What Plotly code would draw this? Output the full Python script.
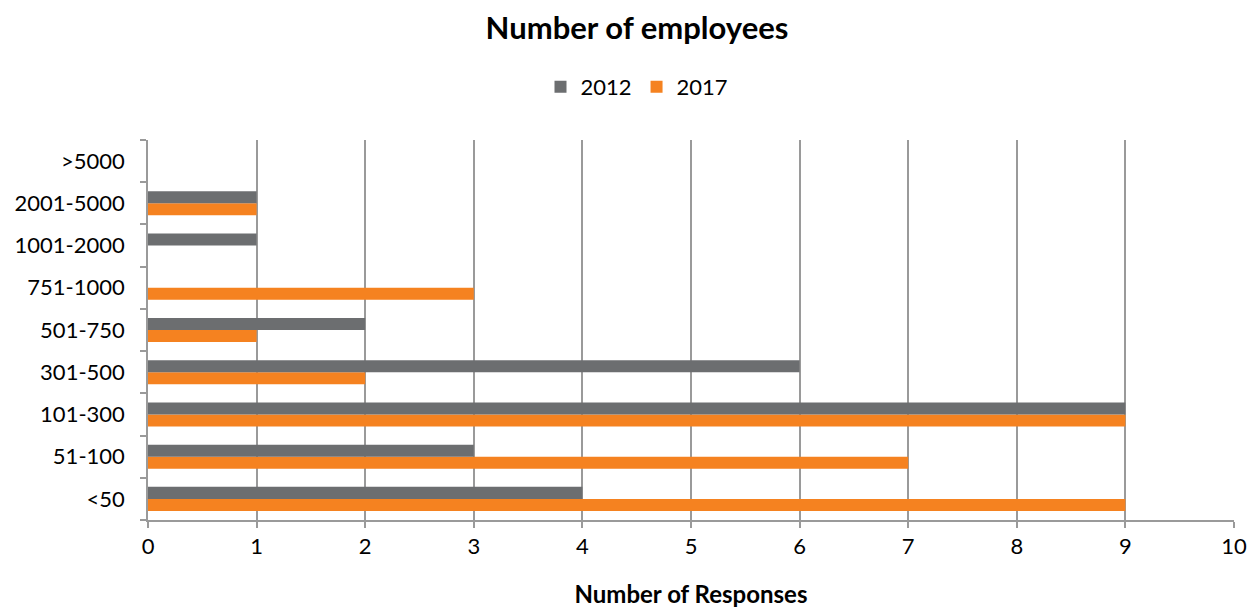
import plotly.graph_objects as go

categories = ["<50", "51-100", "101-300", "301-500", "501-750", "751-1000", "1001-2000", "2001-5000", ">5000"]
values_2012 = [4, 3, 9, 6, 2, 0, 1, 1, 0]
values_2017 = [9, 7, 9, 2, 1, 3, 0, 1, 0]
x_ticks = list(range(0, 11))

GRAY = "#6c6e70"
ORANGE = "#f58220"
AXIS = "#9a9a9a"
FONT = "Lato, 'Open Sans', sans-serif"

fig = go.Figure()
fig.add_trace(go.Bar(y=categories, x=values_2017, name="2017", orientation="h",
                     marker=dict(color=ORANGE, line=dict(width=0)), legendrank=2))
fig.add_trace(go.Bar(y=categories, x=values_2012, name="2012", orientation="h",
                     marker=dict(color=GRAY, line=dict(width=0)), legendrank=1))

fig.update_layout(
    width=1258, height=609,
    paper_bgcolor="white", plot_bgcolor="white",
    font=dict(family=FONT, size=22, color="#000000"),
    title=dict(text="<b>Number of employees</b>", x=0.5, xref="container", xanchor="center",
               yref="container", y=1 - 20 / 609, yanchor="middle",
               font=dict(size=31, family=FONT)),
    legend=dict(orientation="h", xref="container", x=0.5, xanchor="center",
                yref="container", y=1 - 79 / 609, yanchor="middle",
                font=dict(size=22), itemwidth=30),
    barmode="group", bargap=0.43, bargroupgap=0,
    margin=dict(l=140, r=32, t=132, b=97, autoexpand=False),
    showlegend=True,
)
fig.update_xaxes(range=[0, 10], tickvals=x_ticks, showgrid=True, gridcolor=AXIS, gridwidth=1.5,
                 showline=True, linecolor=AXIS, linewidth=1.5, ticks="outside", ticklen=6,
                 tickcolor=AXIS, tickwidth=1.5, zeroline=False, automargin=False,
                 tickfont=dict(size=22),
                 title=dict(text="<b>Number of Responses</b>", font=dict(size=24), standoff=28))
fig.update_yaxes(categoryorder="array", categoryarray=categories, showgrid=False,
                 showline=True, linecolor=AXIS, linewidth=1.5, ticks="outside", ticklen=6,
                 tickcolor=AXIS, tickwidth=1.5, tickson="boundaries", automargin=False,
                 tickfont=dict(size=22), ticklabelstandoff=17)

fig.write_html("out.html")
